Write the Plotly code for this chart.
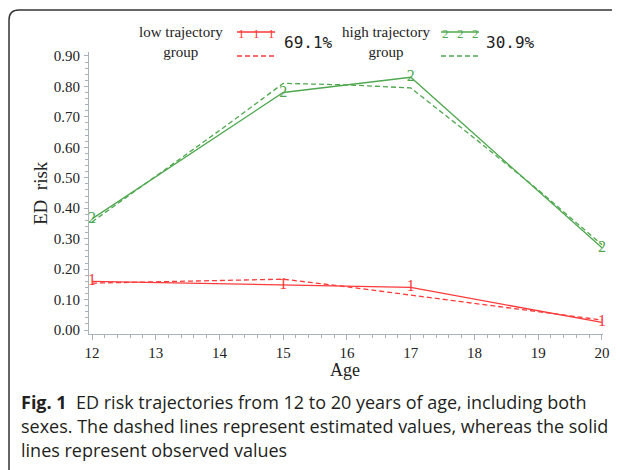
import plotly.graph_objects as go

# observed values (solid lines, numbered markers)
ages_obs = [12, 15, 17, 20]
low_obs = [0.160, 0.148, 0.140, 0.025]
high_obs = [0.365, 0.780, 0.830, 0.270]

# estimated values (dashed lines)
ages_est = [12, 13, 14, 15, 16, 17, 18, 19, 20]
low_est = [0.154, 0.158, 0.163, 0.167, 0.142, 0.115, 0.089, 0.062, 0.033]
high_est = [0.355, 0.505, 0.655, 0.810, 0.805, 0.795, 0.630, 0.460, 0.280]

groups = ["low trajectory<br>group", "high trajectory<br>group"]
shares = ["69.1%", "30.9%"]
marks = ["1", "2"]

RED = "#ff3a3a"
GREEN = "#4fa84f"
AXIS = "#aab3bb"
SERIF = "Liberation Serif, Times New Roman, serif"
DASH = "5px,3px"

# page has an 8px body margin, so the figure is drawn 8px in from the window edge
OFF = 8
W, H = 612, 462
L, R, T, B = 89 - OFF, 620 - 603, 52 - OFF, 470 - 334


def px_x(p):
    """window pixel -> paper x"""
    return (p - OFF - L) / (W - L - R)


def px_y(p):
    """window pixel -> paper y"""
    return (H - B - (p - OFF)) / (H - T - B)


fig = go.Figure()

for y_est, y_obs, col, mk in [(low_est, low_obs, RED, marks[0]), (high_est, high_obs, GREEN, marks[1])]:
    fig.add_trace(go.Scatter(
        x=ages_est, y=y_est, mode="lines", cliponaxis=False,
        line=dict(color=col, width=1.3, dash=DASH), showlegend=False,
    ))
    fig.add_trace(go.Scatter(
        x=ages_obs, y=y_obs, mode="lines+text", cliponaxis=False,
        text=[mk] * len(ages_obs), textposition="middle center",
        textfont=dict(family=SERIF, size=16, color=col),
        line=dict(color=col, width=1.3), showlegend=False,
    ))

shapes = []
annotations = []

# legend block at the top
legend_spec = [
    (groups[0], shares[0], marks[0], RED, 181, 237, 275, [241, 256, 271], 308),
    (groups[1], shares[1], marks[1], GREEN, 386, 441, 479, [445, 460, 475], 510),
]
for label, share, mk, col, lx, s0, s1, mxs, sx in legend_spec:
    annotations.append(dict(
        x=px_x(lx), y=px_y(42), xref="paper", yref="paper", text=label,
        showarrow=False, font=dict(family=SERIF, size=15, color="#222"),
        xanchor="center", yanchor="middle", align="center",
    ))
    shapes.append(dict(type="line", xref="paper", yref="paper",
                       x0=px_x(s0), x1=px_x(s1), y0=px_y(32), y1=px_y(32),
                       line=dict(color=col, width=1.3)))
    shapes.append(dict(type="line", xref="paper", yref="paper",
                       x0=px_x(s0), x1=px_x(s1), y0=px_y(56), y1=px_y(56),
                       line=dict(color=col, width=1.3, dash=DASH)))
    for mx in mxs:
        annotations.append(dict(
            x=px_x(mx), y=px_y(33), xref="paper", yref="paper", text=mk,
            showarrow=False, font=dict(family=SERIF, size=13, color=col),
            xanchor="center", yanchor="middle",
        ))
    annotations.append(dict(
        x=px_x(sx), y=px_y(42), xref="paper", yref="paper", text=share,
        showarrow=False, font=dict(family="DejaVu Sans Mono, monospace", size=16, color="#222"),
        xanchor="center", yanchor="middle",
    ))

# rounded frame around the figure
x0, xr = px_x(9), px_x(640)
yt, yb = px_y(10), px_y(490)
dx, dy = px_x(19) - x0, px_y(10) - px_y(20)
shapes.append(dict(
    type="path", xref="paper", yref="paper",
    path=f"M {x0},{yb} L {x0},{yt - dy} Q {x0},{yt} {x0 + dx},{yt} L {xr},{yt}",
    line=dict(color="#333", width=1.5),
))

# axis titles placed where the reference has them
annotations.append(dict(
    x=px_x(345), y=px_y(370), xref="paper", yref="paper", text="Age",
    showarrow=False, font=dict(family=SERIF, size=18, color="#222"),
    xanchor="center", yanchor="middle",
))
annotations.append(dict(
    x=px_x(40), y=px_y(193), xref="paper", yref="paper", text="ED  risk",
    showarrow=False, textangle=-90, font=dict(family=SERIF, size=19, color="#222"),
    xanchor="center", yanchor="middle",
))

# caption
caption = [
    "<b>Fig. 1</b>\u00a0\u00a0ED risk trajectories from 12 to 20 years of age, including both",
    "sexes. The dashed lines represent estimated values, whereas the solid",
    "lines represent observed values",
]
for i, line in enumerate(caption):
    annotations.append(dict(
        x=px_x(19), y=px_y(402 + 24 * i), xref="paper", yref="paper", text=line,
        showarrow=False, font=dict(family="Open Sans, Noto Sans, sans-serif", size=18, color="#231f20"),
        xanchor="left", yanchor="middle",
    ))

fig.update_layout(
    width=W, height=H,
    margin=dict(l=L, r=R, t=T, b=B),
    plot_bgcolor="white", paper_bgcolor="white",
    font=dict(family=SERIF, size=15, color="#222"),
    shapes=shapes, annotations=annotations,
)
fig.update_xaxes(
    range=[11.953, 20.016], dtick=1, tick0=12, automargin=False,
    showgrid=False, zeroline=False, showline=True, linecolor=AXIS, linewidth=1,
    ticks="outside", ticklen=5, tickcolor=AXIS,
    minor=dict(dtick=0.2, ticks="outside", ticklen=3, tickcolor=AXIS),
    tickfont=dict(family=SERIF, size=15, color="#222"),
)
fig.update_yaxes(
    range=[-0.013, 0.913], dtick=0.1, tick0=0, tickformat=".2f", automargin=False,
    showgrid=False, zeroline=False, showline=True, linecolor=AXIS, linewidth=1,
    ticks="outside", ticklen=4, tickcolor=AXIS, ticklabelstandoff=1,
    minor=dict(dtick=0.02, ticks="outside", ticklen=3, tickcolor=AXIS),
    tickfont=dict(family=SERIF, size=15, color="#222"),
)

fig.write_html("out.html")
